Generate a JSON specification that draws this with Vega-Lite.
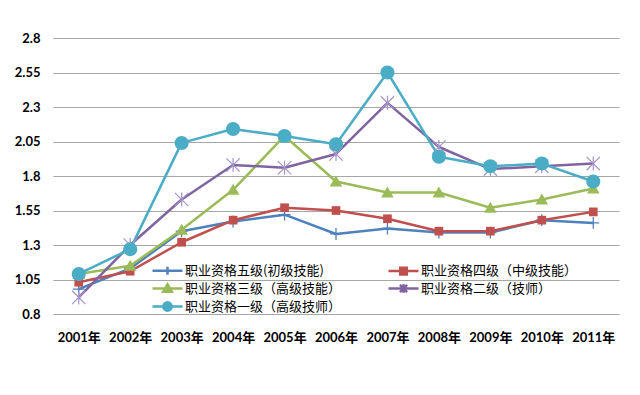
{
  "$schema": "https://vega.github.io/schema/vega-lite/v6.json",
  "width": 566,
  "height": 276,
  "autosize": {"type": "none"},
  "padding": {"left": 53, "top": 38, "right": 21, "bottom": 81},
  "background": "#ffffff",
  "config": {
    "font": "Lato, Noto Sans CJK SC",
    "view": {"stroke": null},
    "axis": {"labelFont": "Lato, Noto Sans CJK SC", "labelColor": "#000000", "labelFontSize": 13, "labelFontWeight": "bold"}
  },
  "data": {
    "values": [
      {"year": "2001年", "series": "职业资格五级(初级技能)", "value": 0.98},
      {"year": "2002年", "series": "职业资格五级(初级技能)", "value": 1.13},
      {"year": "2003年", "series": "职业资格五级(初级技能)", "value": 1.40},
      {"year": "2004年", "series": "职业资格五级(初级技能)", "value": 1.47},
      {"year": "2005年", "series": "职业资格五级(初级技能)", "value": 1.52},
      {"year": "2006年", "series": "职业资格五级(初级技能)", "value": 1.38},
      {"year": "2007年", "series": "职业资格五级(初级技能)", "value": 1.42},
      {"year": "2008年", "series": "职业资格五级(初级技能)", "value": 1.39},
      {"year": "2009年", "series": "职业资格五级(初级技能)", "value": 1.39},
      {"year": "2010年", "series": "职业资格五级(初级技能)", "value": 1.48},
      {"year": "2011年", "series": "职业资格五级(初级技能)", "value": 1.46},
      {"year": "2001年", "series": "职业资格四级（中级技能）", "value": 1.03},
      {"year": "2002年", "series": "职业资格四级（中级技能）", "value": 1.11},
      {"year": "2003年", "series": "职业资格四级（中级技能）", "value": 1.32},
      {"year": "2004年", "series": "职业资格四级（中级技能）", "value": 1.48},
      {"year": "2005年", "series": "职业资格四级（中级技能）", "value": 1.57},
      {"year": "2006年", "series": "职业资格四级（中级技能）", "value": 1.55},
      {"year": "2007年", "series": "职业资格四级（中级技能）", "value": 1.49},
      {"year": "2008年", "series": "职业资格四级（中级技能）", "value": 1.40},
      {"year": "2009年", "series": "职业资格四级（中级技能）", "value": 1.40},
      {"year": "2010年", "series": "职业资格四级（中级技能）", "value": 1.48},
      {"year": "2011年", "series": "职业资格四级（中级技能）", "value": 1.54},
      {"year": "2001年", "series": "职业资格三级（高级技能）", "value": 1.09},
      {"year": "2002年", "series": "职业资格三级（高级技能）", "value": 1.15},
      {"year": "2003年", "series": "职业资格三级（高级技能）", "value": 1.41},
      {"year": "2004年", "series": "职业资格三级（高级技能）", "value": 1.70},
      {"year": "2005年", "series": "职业资格三级（高级技能）", "value": 2.09},
      {"year": "2006年", "series": "职业资格三级（高级技能）", "value": 1.76},
      {"year": "2007年", "series": "职业资格三级（高级技能）", "value": 1.68},
      {"year": "2008年", "series": "职业资格三级（高级技能）", "value": 1.68},
      {"year": "2009年", "series": "职业资格三级（高级技能）", "value": 1.57},
      {"year": "2010年", "series": "职业资格三级（高级技能）", "value": 1.63},
      {"year": "2011年", "series": "职业资格三级（高级技能）", "value": 1.71},
      {"year": "2001年", "series": "职业资格二级（技师）", "value": 0.92},
      {"year": "2002年", "series": "职业资格二级（技师）", "value": 1.30},
      {"year": "2003年", "series": "职业资格二级（技师）", "value": 1.63},
      {"year": "2004年", "series": "职业资格二级（技师）", "value": 1.88},
      {"year": "2005年", "series": "职业资格二级（技师）", "value": 1.86},
      {"year": "2006年", "series": "职业资格二级（技师）", "value": 1.96},
      {"year": "2007年", "series": "职业资格二级（技师）", "value": 2.33},
      {"year": "2008年", "series": "职业资格二级（技师）", "value": 2.01},
      {"year": "2009年", "series": "职业资格二级（技师）", "value": 1.85},
      {"year": "2010年", "series": "职业资格二级（技师）", "value": 1.87},
      {"year": "2011年", "series": "职业资格二级（技师）", "value": 1.89},
      {"year": "2001年", "series": "职业资格一级（高级技师）", "value": 1.09},
      {"year": "2002年", "series": "职业资格一级（高级技师）", "value": 1.27},
      {"year": "2003年", "series": "职业资格一级（高级技师）", "value": 2.04},
      {"year": "2004年", "series": "职业资格一级（高级技师）", "value": 2.14},
      {"year": "2005年", "series": "职业资格一级（高级技师）", "value": 2.09},
      {"year": "2006年", "series": "职业资格一级（高级技师）", "value": 2.03},
      {"year": "2007年", "series": "职业资格一级（高级技师）", "value": 2.55},
      {"year": "2008年", "series": "职业资格一级（高级技师）", "value": 1.94},
      {"year": "2009年", "series": "职业资格一级（高级技师）", "value": 1.87},
      {"year": "2010年", "series": "职业资格一级（高级技师）", "value": 1.89},
      {"year": "2011年", "series": "职业资格一级（高级技师）", "value": 1.76}
    ]
  },
  "encoding": {
    "x": {
      "field": "year", "type": "ordinal", "sort": null,
      "scale": {"type": "point", "padding": 0.5},
      "axis": {"title": null, "labelAngle": 0, "ticks": false, "domain": false, "labelPadding": 17, "grid": false}
    },
    "y": {
      "field": "value", "type": "quantitative",
      "scale": {"domain": [0.8, 2.8], "nice": false, "zero": false},
      "axis": {"title": null, "values": [0.8, 1.05, 1.3, 1.55, 1.8, 2.05, 2.3, 2.55, 2.8], "ticks": false, "domain": false, "grid": true, "gridColor": "#a6a6a6", "gridWidth": 1, "labelPadding": 13, "labelExpr": "format(datum.value, '.2~f')"}
    }
  },
  "layer": [
    {
      "mark": {"type": "line", "strokeJoin": "round", "strokeWidth": 2.5},
      "encoding": {
        "stroke": {
          "field": "series", "type": "nominal",
          "scale": {"domain": ["职业资格五级(初级技能)", "职业资格四级（中级技能）", "职业资格三级（高级技能）", "职业资格二级（技师）", "职业资格一级（高级技师）"], "range": ["#4F81BD", "#C0504D", "#9BBB59", "#8064A2", "#4BACC6"]},
          "legend": {
            "title": null,
            "orient": "none",
            "legendX": 107,
            "legendY": 225,
            "columns": 2,
            "direction": "horizontal",
            "columnPadding": 41,
            "rowPadding": -1,
            "symbolSize": 144,
            "symbolStrokeWidth": 2.5,
            "labelOffset": 10,
            "labelFontSize": 13,
            "labelColor": "#000000",
            "labelLimit": 300,
            "labelFont": "Noto Sans CJK SC",
            "encode": {
              "symbols": {
                "update": {
                  "stroke": {"scale": "stroke", "field": "value"},
                  "fill": {"scale": "stroke", "field": "value"},
                  "strokeWidth": {"value": 2.5},
                  "opacity": {"value": 1},
                  "shape": {"signal": "datum.value === '职业资格五级(初级技能)' ? 'M-2.5,0H2.5M-0.67,0H0.67M0,-0.67V0.67' : datum.value === '职业资格四级（中级技能）' ? 'M-2.5,0H2.5M-0.55,-0.55H0.55V0.55H-0.55Z' : datum.value === '职业资格三级（高级技能）' ? 'M-2.5,0H2.5M0,-0.72L0.72,0.55H-0.72Z' : datum.value === '职业资格二级（技师）' ? 'M-2.5,0H2.5M-0.6,-0.6L0.6,0.6M-0.6,0.6L0.6,-0.6M0,-0.72V0.72' : 'M-2.5,0H2.5M-0.7,0A0.7,0.7,0,1,1,0.7,0A0.7,0.7,0,1,1,-0.7,0Z'"}
                }
              }
            }
          }
        }
      }
    },
    {
      "transform": [{"filter": "datum.series === '职业资格五级(初级技能)'"}],
      "mark": {"type": "point", "shape": "M-0.85,0H0.85M0,-0.85V0.85", "size": 196, "filled": false, "stroke": "#4F81BD", "strokeWidth": 1.3, "opacity": 1}
    },
    {
      "transform": [{"filter": "datum.series === '职业资格四级（中级技能）'"}],
      "mark": {"type": "point", "shape": "M-0.62,-0.62H0.62V0.62H-0.62Z", "size": 196, "filled": true, "fill": "#C0504D", "opacity": 1}
    },
    {
      "transform": [{"filter": "datum.series === '职业资格三级（高级技能）'"}],
      "mark": {"type": "point", "shape": "M0,-0.85L0.9,0.72H-0.9Z", "size": 196, "filled": true, "fill": "#9BBB59", "opacity": 1}
    },
    {
      "transform": [{"filter": "datum.series === '职业资格二级（技师）'"}],
      "mark": {"type": "point", "shape": "M-0.95,-0.95L0.95,0.95M-0.95,0.95L0.95,-0.95M0,-1V1", "size": 196, "filled": false, "stroke": "#A393C9", "strokeWidth": 1.2, "opacity": 1}
    },
    {
      "transform": [{"filter": "datum.series === '职业资格一级（高级技师）'"}],
      "mark": {"type": "point", "shape": "M-1,0A1,1,0,1,1,1,0A1,1,0,1,1,-1,0Z", "size": 196, "filled": true, "fill": "#4BACC6", "opacity": 1}
    }
  ]
}
